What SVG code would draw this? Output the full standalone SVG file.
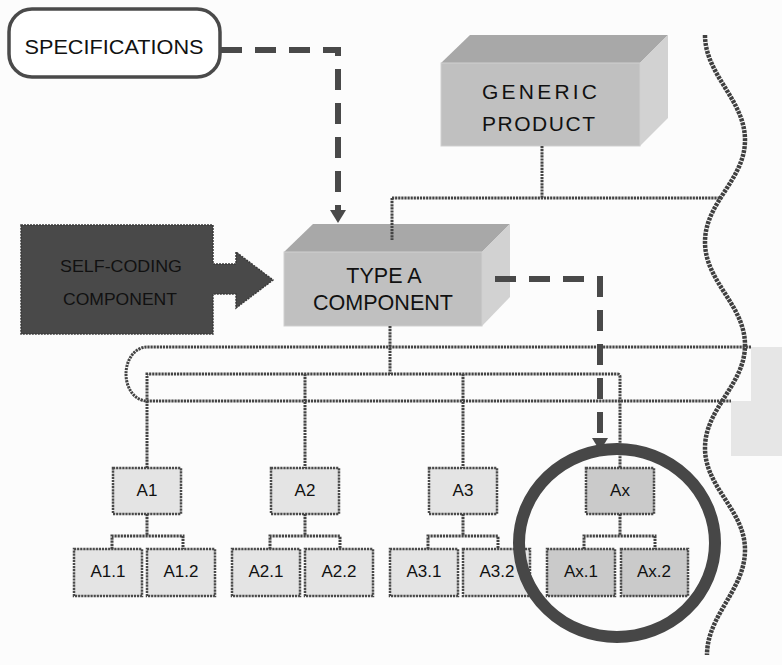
<svg xmlns="http://www.w3.org/2000/svg" width="782" height="665" viewBox="0 0 782 665">
<defs>
<style>
.t{font-family:"Liberation Sans",Arial,sans-serif;fill:#111;text-anchor:middle}
.dot{fill:none;stroke:#444;stroke-width:3;stroke-dasharray:2.2 0.9}
.dash{fill:none;stroke:#494949;stroke-width:6;stroke-dasharray:21 13}
.box{fill:#e4e4e4;stroke:#4a4a4a;stroke-width:2.5;stroke-dasharray:2.2 0.9}
.boxx{fill:#cacaca;stroke:#4a4a4a;stroke-width:2.5;stroke-dasharray:2.2 0.9}
.bt{font-family:"Liberation Sans",Arial,sans-serif;font-size:17px;fill:#111;text-anchor:middle}
.top{fill:#a8a8a8}.front{fill:#c0c0c0;stroke:#cfcfcf;stroke-width:1}.side{fill:#d2d2d2}
</style>
</defs>
<rect width="782" height="665" fill="#fcfcfc"/>
<polygon points="751,347 782,347 782,456 731,456 731,401 751,401" fill="#e6e6e6"/>
<path d="M705,35 C705,75 745,100 745,140 S705,202 705,242 S745,305 745,345 S705,408 705,448 S745,510 745,550 S707,615 707,655" fill="none" stroke="#404040" stroke-width="4.5" stroke-dasharray="3 1"/>

<g id="specifications">
<rect x="9" y="9" width="211" height="68" rx="23" fill="#fff" stroke="#4a4a4a" stroke-width="3.5"/>
<text class="t" x="114" y="54" font-size="20.5" textLength="179" lengthAdjust="spacingAndGlyphs">SPECIFICATIONS</text>
</g>

<g id="generic-product">
<polygon class="top" points="441,63 470,35 668,35 640,63"/>
<polygon class="side" points="640,63 668,35 668,118 640,146"/>
<rect class="front" x="441" y="63" width="199" height="83"/>
<text class="t" x="539.5" y="99" font-size="21" textLength="115" lengthAdjust="spacing">GENERIC</text>
<text class="t" x="538.5" y="131" font-size="21" textLength="113" lengthAdjust="spacing">PRODUCT</text>
</g>

<g id="type-a-component">
<polygon class="top" points="284,252 313,224 510,224 482,252"/>
<polygon class="side" points="482,252 510,224 510,297 482,326"/>
<rect class="front" x="284" y="252" width="198" height="74"/>
<text class="t" x="384" y="283" font-size="21.5">TYPE A</text>
<text class="t" x="383" y="310" font-size="21.5" textLength="140" lengthAdjust="spacingAndGlyphs">COMPONENT</text>
</g>

<g id="self-coding-component">
<path d="M21,225 H213 V264 H236 V252 L273,280 L236,308 V294 H213 V334 H21 Z" fill="#494949" stroke="#3a3a3a" stroke-width="1.5" stroke-dasharray="2 1"/>
<text class="t" x="121" y="272" font-size="17" textLength="122" lengthAdjust="spacingAndGlyphs">SELF-CODING</text>
<text class="t" x="120" y="305" font-size="17" textLength="114" lengthAdjust="spacingAndGlyphs">COMPONENT</text>
</g>

<g id="a1">
<rect class="box" x="113" y="468" width="68" height="46"/><text class="bt" x="147" y="496">A1</text>
</g>
<g id="a1-1"><rect class="box" x="74" y="549" width="68" height="47"/><text class="bt" x="108" y="577">A1.1</text></g>
<g id="a1-2"><rect class="box" x="147" y="549" width="68" height="47"/><text class="bt" x="181" y="577">A1.2</text></g>

<g id="a2">
<rect class="box" x="271" y="468" width="68" height="46"/><text class="bt" x="305" y="496">A2</text>
</g>
<g id="a2-1"><rect class="box" x="232" y="549" width="68" height="47"/><text class="bt" x="266" y="577">A2.1</text></g>
<g id="a2-2"><rect class="box" x="305" y="549" width="68" height="47"/><text class="bt" x="339" y="577">A2.2</text></g>

<g id="a3">
<rect class="box" x="429" y="468" width="68" height="46"/><text class="bt" x="463" y="496">A3</text>
</g>
<g id="a3-1"><rect class="box" x="390" y="549" width="68" height="47"/><text class="bt" x="424" y="577">A3.1</text></g>
<g id="a3-2"><rect class="box" x="463" y="549" width="67" height="47"/><text class="bt" x="497" y="577">A3.2</text></g>

<g id="ax">
<rect class="boxx" x="586" y="468" width="68" height="46"/><text class="bt" x="620" y="496">Ax</text>
</g>
<g id="ax-1"><rect class="boxx" x="547" y="549" width="68" height="47"/><text class="bt" x="581" y="577">Ax.1</text></g>
<g id="ax-2"><rect class="boxx" x="621" y="549" width="67" height="47"/><text class="bt" x="654" y="577">Ax.2</text></g>

<g id="connectors">
<path class="dot" d="M542,146 V198 M392,198 H722 M392,198 V240"/>
<path class="dot" d="M390,326 V374"/>
<path class="dot" d="M751,347 H147 A21,27 0 0 0 147,401 H731"/>
<path class="dot" d="M147,468 V374 H617 Q620,374 620,377 V468"/>
<path class="dot" d="M305,374 V468 M463,374 V468"/>
<path class="dot" d="M147,514 V536 M112,549 V536 H183 V549"/>
<path class="dot" d="M305,514 V536 M270,549 V536 H340 V549"/>
<path class="dot" d="M463,514 V536 M428,549 V536 H498 V549"/>
<path class="dot" d="M620,514 V536 M584,549 V536 H655 V549"/>
<path class="dash" d="M221,50 H338 V210"/>
<polygon points="330,210 346,210 338,223" fill="#494949"/>
<path class="dash" d="M495,279 H600 V439"/>
<polygon points="592,438 608,438 600,451" fill="#494949"/>
</g>

<ellipse cx="617" cy="543" rx="98" ry="94" fill="none" stroke="#474747" stroke-width="12"/>
</svg>
